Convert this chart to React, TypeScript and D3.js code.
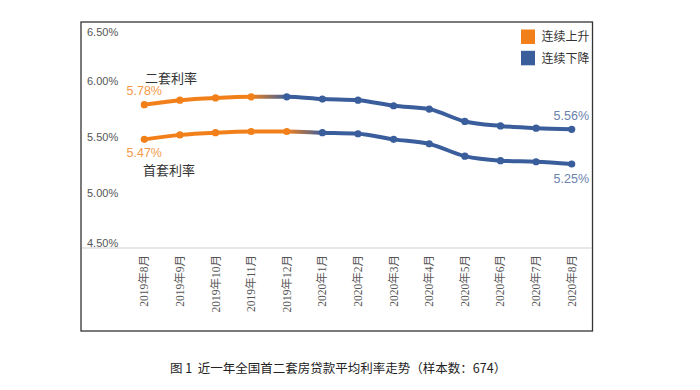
import React from 'react';
import * as d3 from 'd3';

const months = [
  '2019年8月', '2019年9月', '2019年10月', '2019年11月', '2019年12月',
  '2020年1月', '2020年2月', '2020年3月', '2020年4月', '2020年5月',
  '2020年6月', '2020年7月', '2020年8月',
];
const secondRate = [5.78, 5.82, 5.84, 5.85, 5.85, 5.83, 5.82, 5.77, 5.74, 5.63, 5.59, 5.57, 5.56];
const firstRate = [5.47, 5.51, 5.53, 5.54, 5.54, 5.53, 5.52, 5.47, 5.43, 5.32, 5.28, 5.27, 5.25];
// last month index of the rising stretch for each series
const secondRiseEnd = 3;
const firstRiseEnd = 4;
const yTicks = [4.5, 5.0, 5.5, 6.0, 6.5];
const legendItems = ['连续上升', '连续下降'];
const caption = '图\u00a01\u00a0\u00a0近一年全国首二套房贷款平均利率走势（样本数：674）';

const ORANGE = '#F2801A';
const BLUE = '#3A5E9C';

const App: React.FC = () => {
  const x = d3.scalePoint<string>().domain(months).range([144.3, 571.7]);
  const y = d3.scaleLinear().domain([4.5, 6.5]).range([248, 24]);

  const line = d3.line<number>()
    .x((_, i) => x(months[i]) as number)
    .y(d => y(d))
    .curve(d3.curveMonotoneX);

  const series = [
    { id: 'second', values: secondRate, riseEnd: secondRiseEnd },
    { id: 'first', values: firstRate, riseEnd: firstRiseEnd },
  ];

  const fmt = (v: number) => v.toFixed(2) + '%';
  const sans = '"Liberation Sans", Arial, "Noto Sans CJK SC", sans-serif';
  const cjk = '"Noto Sans CJK SC", sans-serif';

  const last = months.length - 1;

  return (
    <svg width={700} height={390} style={{ position: 'absolute', left: 0, top: 0, background: '#fff' }}>
      <defs>
        {series.map(s => (
          <linearGradient
            key={s.id}
            id={`grad-${s.id}`}
            gradientUnits="userSpaceOnUse"
            x1={x(months[s.riseEnd])}
            x2={x(months[s.riseEnd + 1])}
            y1={0}
            y2={0}
          >
            <stop offset="0" stopColor={ORANGE} />
            <stop offset="1" stopColor={BLUE} />
          </linearGradient>
        ))}
        <clipPath id="legend-clip">
          <rect x={0} y={0} width={589} height={390} />
        </clipPath>
      </defs>

      {/* frame */}
      <rect x={81} y={22} width={511.5} height={309} fill="none" stroke="#333" strokeWidth={1.3} />

      {/* axis baseline */}
      <line x1={82} x2={592} y1={y(4.5)} y2={y(4.5)} stroke="#d0d0d0" strokeWidth={1.2} />

      {/* y tick labels */}
      {yTicks.map(t => {
        const cy = Math.max(32.5, Math.min(243, y(t) + 1.5));
        return (
          <text key={t} x={87} y={cy} dy="0.35em" fontSize={11} fontFamily={sans} fill="#555">
            {fmt(t)}
          </text>
        );
      })}

      {/* x labels */}
      {months.map(m => (
        <text
          key={m}
          transform={`translate(${(x(m) as number) + 4},255) rotate(-90)`}
          textAnchor="end"
          fontSize={11.5}
          fontFamily={'"Liberation Serif", "DejaVu Serif", "Noto Sans CJK SC", serif'}
          fill="#555"
        >
          {m}
        </text>
      ))}

      {/* lines */}
      {series.map(s => (
        <g key={s.id}>
          <path d={line(s.values) || ''} fill="none" stroke={`url(#grad-${s.id})`} strokeWidth={4} strokeLinejoin="round" />
          {s.values.map((v, i) => (
            <circle key={i} cx={x(months[i])} cy={y(v)} r={3.6} fill={i <= s.riseEnd ? ORANGE : BLUE} />
          ))}
        </g>
      ))}

      {/* annotations */}
      <text x={145} y={78} dy="0.35em" fontSize={13} fontFamily={cjk} fill="#333">二套利率</text>
      <text x={143} y={170} dy="0.35em" fontSize={13} fontFamily={cjk} fill="#333">首套利率</text>
      <text x={126.5} y={y(secondRate[0]) - 14} dy="0.35em" fontSize={12.5} fontFamily={sans} fill="#F39A4C">
        {fmt(secondRate[0])}
      </text>
      <text x={126.5} y={y(firstRate[0]) + 13.5} dy="0.35em" fontSize={12.5} fontFamily={sans} fill="#F39A4C">
        {fmt(firstRate[0])}
      </text>
      <text x={589} y={y(secondRate[last]) - 14} dy="0.35em" textAnchor="end" fontSize={12.5} fontFamily={sans} fill="#6A82AE">
        {fmt(secondRate[last])}
      </text>
      <text x={589} y={y(firstRate[last]) + 15} dy="0.35em" textAnchor="end" fontSize={12.5} fontFamily={sans} fill="#6A82AE">
        {fmt(firstRate[last])}
      </text>

      {/* legend */}
      <g clipPath="url(#legend-clip)">
        {legendItems.map((l, i) => (
          <g key={l} transform={`translate(521,${29.5 + i * 21.3})`}>
            <rect width={14} height={14.5} fill={i === 0 ? ORANGE : BLUE} />
            <text x={20.5} y={7.5} dy="0.35em" fontSize={12} fontFamily={cjk} fill="#333">{l}</text>
          </g>
        ))}
      </g>

      {/* caption */}
      <text x={170} y={369} dy="0.35em" fontSize={12.5} fontFamily={cjk} fill="#222">{caption}</text>
    </svg>
  );
};

export default App;
